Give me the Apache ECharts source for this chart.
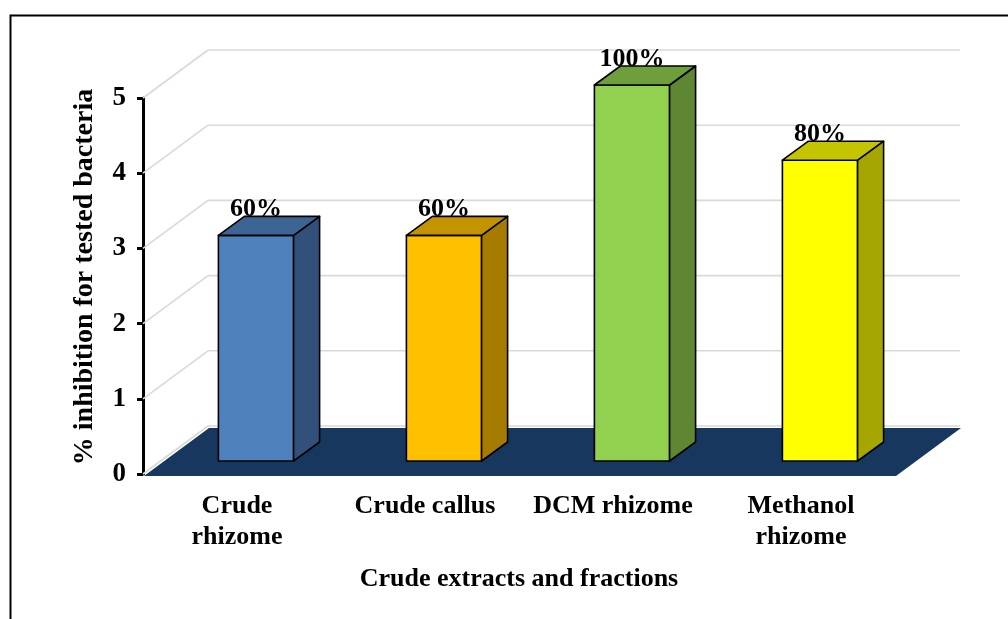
<!DOCTYPE html>
<html>
<head>
<meta charset="utf-8">
<script src="https://cdn.jsdelivr.net/npm/echarts@6/dist/echarts.min.js"></script>
<style>
  html, body { margin: 0; padding: 0; background: #fff; }
  #chart { width: 1008px; height: 619px; }
</style>
</head>
<body>
<div id="chart"></div>
<script>
// Extracts tested and how many of the bacteria each one inhibited
const categories = ['Crude\nrhizome', 'Crude callus', 'DCM rhizome', 'Methanol\nrhizome'];
const inhibitedCounts = [3, 3, 5, 4];
const testedBacteria = 5;
const yTicks = [0, 1, 2, 3, 4, 5];

// Face colours for each bar: front, side, top
const palette = [
  { front: '#4f81bd', side: '#31517a', top: '#3d6594' },
  { front: '#ffc000', side: '#a67c00', top: '#c49300' },
  { front: '#92d050', side: '#5f8733', top: '#6f9e3d' },
  { front: '#ffff00', side: '#a6a600', top: '#c4c400' }
];

const FONT = '"Liberation Serif", "Times New Roman", serif';
// Oblique projection of the depth axis (full wall depth and bar depth)
const WALL_DX = 65, WALL_DY = -48;
const BAR_OFF_DX = 19, BAR_OFF_DY = -13;
const BAR_DX = 26, BAR_DY = -19;

const chart = echarts.init(document.getElementById('chart'), null, { renderer: 'canvas' });

function wallRenderItem(params, api) {
  const cs = params.coordSys;
  const y = api.coord([0, api.value(0)])[1];
  const style = { stroke: '#d9d9d9', lineWidth: 1.6, fill: null };
  return {
    type: 'group',
    children: [
      { type: 'line', shape: { x1: cs.x, y1: y, x2: cs.x + WALL_DX, y2: y + WALL_DY }, style },
      { type: 'line', shape: { x1: cs.x + WALL_DX, y1: y + WALL_DY, x2: cs.x + cs.width + WALL_DX, y2: y + WALL_DY }, style }
    ]
  };
}

function floorRenderItem(params, api) {
  const cs = params.coordSys;
  const y = api.coord([0, 0])[1] + 2;
  return {
    type: 'polygon',
    shape: {
      points: [
        [cs.x + 1, y],
        [cs.x + cs.width + 1, y],
        [cs.x + cs.width + WALL_DX + 1, y + WALL_DY],
        [cs.x + WALL_DX + 1, y + WALL_DY]
      ]
    },
    style: { fill: '#17375e' }
  };
}

function barRenderItem(params, api) {
  const idx = api.value(0);
  const val = api.value(1);
  const base = api.coord([idx, 0]);
  const top = api.coord([idx, val]);
  const bw = api.size([1, 0])[0] * 0.4;
  const x0 = base[0] - bw / 2 + BAR_OFF_DX;
  const x1 = x0 + bw;
  const yb = base[1] + BAR_OFF_DY;
  const yt = top[1] + BAR_OFF_DY;
  const c = palette[idx];
  const edge = { stroke: '#000', lineWidth: 1.6, lineJoin: 'round' };
  return {
    type: 'group',
    children: [
      { type: 'polygon', shape: { points: [[x0, yb], [x1, yb], [x1, yt], [x0, yt]] },
        style: Object.assign({ fill: c.front }, edge) },
      { type: 'polygon', shape: { points: [[x1, yb], [x1 + BAR_DX, yb + BAR_DY], [x1 + BAR_DX, yt + BAR_DY], [x1, yt]] },
        style: Object.assign({ fill: c.side }, edge) },
      { type: 'polygon', shape: { points: [[x0, yt], [x0 + BAR_DX, yt + BAR_DY], [x1 + BAR_DX, yt + BAR_DY], [x1, yt]] },
        style: Object.assign({ fill: c.top }, edge) },
      { type: 'text', style: {
          x: (x0 + x1) / 2, y: yt - 26,
          text: Math.round(val / testedBacteria * 100) + '%',
          fill: '#000', font: 'bold 26px ' + FONT,
          textAlign: 'center', textVerticalAlign: 'middle'
        } }
    ]
  };
}

chart.setOption({
  animation: false,
  backgroundColor: '#fff',
  grid: { left: 143, right: 113, top: 98, bottom: 145, containLabel: false },
  xAxis: {
    type: 'category',
    data: categories,
    axisLine: { show: false },
    axisTick: { show: false },
    axisLabel: {
      interval: 0, margin: 17, color: '#000',
      fontFamily: FONT, fontWeight: 'bold', fontSize: 26, lineHeight: 31
    },
    name: 'Crude extracts and fractions',
    nameLocation: 'middle',
    nameGap: 92,
    nameTextStyle: { color: '#000', fontFamily: FONT, fontWeight: 'bold', fontSize: 26 }
  },
  yAxis: {
    type: 'value',
    min: yTicks[0], max: yTicks[yTicks.length - 1], interval: 1,
    axisLine: { show: true, lineStyle: { color: '#000', width: 3 } },
    axisTick: { show: true, length: 6, lineStyle: { color: '#000', width: 3 } },
    splitLine: { show: false },
    axisLabel: { margin: 17, color: '#000', fontFamily: FONT, fontWeight: 'bold', fontSize: 27 },
    name: '% inhibition for tested bacteria',
    nameLocation: 'middle',
    nameGap: 44,
    nameTextStyle: { color: '#000', fontFamily: FONT, fontWeight: 'bold', fontSize: 28, padding: [0, 0, 0, 18] }
  },
  graphic: [{
    type: 'rect', left: 8, top: 13, silent: true,
    shape: { width: 1100, height: 700 },
    style: { fill: null, stroke: '#000', lineWidth: 2 }
  }],
  series: [
    { type: 'custom', z: 1, renderItem: wallRenderItem, data: yTicks.map(v => [v]), silent: true },
    { type: 'custom', z: 2, renderItem: floorRenderItem, data: [[0]], silent: true },
    { type: 'custom', z: 3, renderItem: barRenderItem,
      data: inhibitedCounts.map((v, i) => [i, v]), silent: true }
  ]
});
</script>
</body>
</html>
